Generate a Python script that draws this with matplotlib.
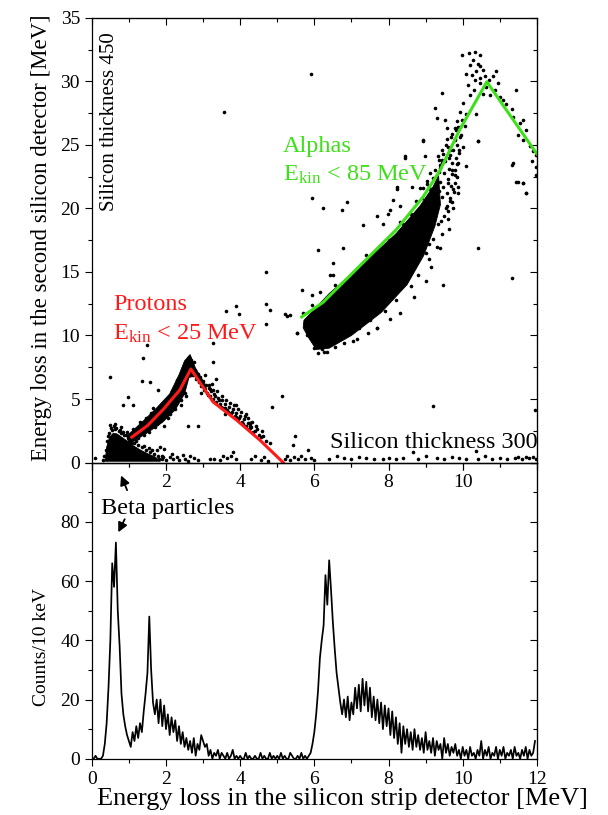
import matplotlib
matplotlib.use('Agg')
import matplotlib.pyplot as plt
import numpy as np
from matplotlib.ticker import MultipleLocator

plt.rcParams['font.family'] = 'Liberation Serif'
plt.rcParams['mathtext.fontset'] = 'custom'
plt.rcParams['mathtext.rm'] = 'Liberation Serif'
plt.rcParams['mathtext.it'] = 'Liberation Serif:italic'

# ---- dE-E scatter: isolated events [MeV, MeV]
outlier_x = [5.90, 3.56, 4.71, 4.71, 3.90, 3.63, 3.98, 4.80, 4.71, 5.54, 1.39, 0.49, 1.57, 1.35,
             1.79, 3.27, 3.36, 5.12, 4.87, 1.48, 3.27, 0.98, 0.85, 1.12, 2.60, 2.87, 4.26, 5.43,
             0.09, 0.49, 0.63, 0.80, 9.20, 5.48, 5.84, 11.95, 8.67, 10.37, 5.93, 6.24, 6.74, 6.87,
             6.10, 6.51, 6.78, 6.42, 6.50, 5.93, 6.15, 7.68, 7.05, 7.32, 7.68, 8.04, 8.22, 8.44,
             8.85, 8.94, 9.47, 10.42, 9.74, 10.42, 11.36, 11.32, 5.66, 5.20, 5.25, 5.35, 5.52]
outlier_y = [30.6, 27.6, 15.0, 12.5, 12.3, 11.9, 11.7, 12.0, 10.9, 10.2, 8.2, 6.76, 6.36, 6.44,
             5.7, 7.94, 6.6, 5.26, 4.4, 9.25, 9.4, 5.18, 4.53, 4.53, 2.9, 2.9, 3.09, 1.38,
             0.33, 2.95, 3.0, 2.8, 4.45, 2.11, 0.98, 4.1, 0.85, 0.93, 20.8, 20.0, 19.9, 20.5,
             16.7, 15.7, 16.9, 14.8, 14.8, 13.2, 13.4, 10.6, 9.6, 18.7, 19.4, 19.9, 21.5, 24.0,
             21.6, 25.3, 14.0, 16.9, 20.0, 25.3, 23.6, 14.5, 13.6, 11.7, 11.5, 11.6, 10.2]

# beta particles: dense blob outline plus its fringe
beta_core_x = [0.36, 0.40, 0.48, 0.58, 0.68, 0.80, 0.95, 1.10, 1.30, 1.50, 1.70, 1.85, 0.36]
beta_core_y = [0.10, 1.20, 2.00, 2.30, 2.25, 2.00, 1.70, 1.35, 1.00, 0.70, 0.45, 0.10, 0.10]
beta_x = [0.33, 0.37, 0.42, 0.47, 0.55, 0.63, 0.72, 0.78, 0.88, 0.97, 1.05, 1.15, 1.25, 1.35,
          1.45, 1.58, 1.68, 1.78, 1.88, 0.52, 0.60, 0.66, 0.85, 1.02, 1.20, 1.40, 1.62, 0.30,
          0.44, 0.75, 0.92, 1.92, 1.55, 1.12]
beta_y = [0.5, 1.0, 1.7, 2.3, 2.55, 2.6, 2.45, 2.3, 2.2, 1.95, 1.8, 1.55, 1.35, 1.2,
          1.0, 0.85, 0.7, 0.55, 0.3, 2.75, 2.85, 2.7, 2.4, 2.05, 1.7, 1.3, 0.95, 0.2,
          2.1, 2.55, 2.15, 0.45, 1.15, 1.9]

# protons: rising branch outline and fringe, falling branch events
proton_core_x = [1.00, 1.45, 1.90, 2.25, 2.50, 2.62, 2.78, 2.90, 3.10, 3.05, 2.80, 2.65,
                 2.50, 2.35, 2.10, 1.75, 1.40, 1.10, 0.95]
proton_core_y = [1.45, 2.25, 3.15, 4.15, 5.40, 6.70, 6.80, 6.30, 5.70, 6.20, 7.40, 8.50,
                 8.00, 6.90, 5.40, 4.30, 3.30, 2.50, 2.10]
proton_x = [0.95, 1.10, 1.20, 1.30, 1.45, 1.55, 1.70, 1.85, 2.00, 2.05, 2.20, 2.25, 2.35, 2.40,
            2.45, 2.50, 1.65, 1.60, 2.15, 2.30, 1.25, 1.40, 1.75, 1.95, 2.10, 2.40, 2.55, 1.05,
            2.70, 2.72, 2.78, 2.80, 2.85, 2.88, 2.92, 2.95, 3.00, 3.02, 3.08, 3.10, 3.15, 3.18,
            3.22, 3.28, 3.30, 3.35, 3.40, 3.45, 3.50, 3.55, 3.60, 3.65, 3.70, 3.75, 3.80, 3.85,
            3.90, 3.95, 4.00, 4.05, 4.10, 4.15, 4.20, 4.25, 4.30, 4.35, 4.40, 4.50, 4.55, 4.62,
            4.70, 4.80, 3.05, 3.25, 2.95, 3.60, 3.90, 4.15, 2.62, 2.58, 2.68, 2.75, 2.55, 4.27,
            4.27, 4.27, 3.12, 3.20, 3.33, 3.42, 3.48, 3.58, 3.68, 3.78, 3.88, 3.98, 4.08, 4.45,
            3.17, 3.27, 3.38, 3.52, 3.63, 3.72, 3.83, 3.93, 4.03, 4.12, 4.22, 4.33, 4.42, 4.58]
proton_y = [2.4, 2.6, 2.3, 3.2, 3.5, 2.4, 2.8, 4.4, 4.6, 3.5, 5.5, 4.2, 6.2, 4.9,
            7.3, 5.5, 4.3, 3.9, 5.6, 6.5, 1.9, 2.2, 3.0, 2.9, 3.8, 4.5, 5.2, 1.55,
            7.6, 6.9, 7.3, 6.6, 7.0, 6.3, 6.7, 6.0, 6.4, 5.7, 6.1, 5.5, 5.9, 5.2,
            5.6, 5.0, 5.4, 4.8, 5.1, 4.6, 4.9, 4.3, 4.6, 4.1, 4.4, 3.9, 4.2, 3.7,
            3.9, 3.4, 3.7, 3.2, 3.4, 2.9, 3.1, 2.6, 2.8, 2.4, 2.5, 2.2, 2.0, 2.1,
            1.7, 1.5, 6.9, 6.2, 5.5, 3.8, 4.5, 3.8, 8.3, 8.0, 8.1, 7.9, 7.7, 3.1,
            2.9, 2.7, 5.3, 5.8, 5.2, 4.9, 4.4, 4.3, 4.0, 4.0, 3.6, 3.5, 3.0, 2.6,
            6.1, 5.7, 5.6, 5.2, 4.9, 4.7, 4.5, 4.2, 4.0, 3.7, 3.5, 3.2, 2.9, 2.5]

# alphas: dense band outline, fringe, punch-through peak and falling branch
alpha_core_x = [5.72, 6.40, 7.30, 8.20, 8.85, 9.20, 9.35, 9.40, 9.25, 8.95, 8.50, 7.80,
                7.00, 6.40, 6.05, 5.85, 5.70]
alpha_core_y = [11.2, 13.3, 15.6, 18.0, 20.2, 21.7, 22.6, 20.3, 18.6, 16.3, 14.0, 11.8,
                10.0, 9.0, 8.9, 9.8, 10.6]
alpha_x = [5.85, 5.95, 6.00, 6.10, 6.20, 6.30, 6.05, 5.75, 5.80, 6.35, 6.50, 6.65, 6.15, 5.90,
           6.00, 6.20, 6.30, 6.60, 6.90, 7.10, 7.50, 7.80, 8.00, 8.40, 8.60, 8.90, 9.10, 9.35,
           9.45, 7.20, 7.50, 7.90, 8.20, 8.60, 8.80, 9.10, 9.30, 9.45, 9.60, 9.70, 9.75, 9.80,
           9.85, 9.90, 9.70, 9.60, 9.65, 9.80, 9.95, 10.00,
           9.97, 10.18, 10.33, 10.46, 10.28, 10.42, 10.19, 10.46, 10.55, 10.37, 10.10, 10.24,
           10.60, 10.46, 10.33, 10.15, 10.46, 10.64, 10.82, 10.91, 10.96, 10.87, 10.73, 11.00,
           11.09, 11.18, 11.32, 11.45, 11.36, 11.54, 11.63, 11.72, 11.50, 11.63, 11.81, 11.90,
           11.99, 11.86, 11.99, 11.32, 11.50, 11.63, 11.72, 11.99, 11.45, 11.63, 11.72,
           10.01, 9.92, 10.10, 9.97, 9.88, 9.83, 9.70, 9.79, 9.57, 9.65, 9.48, 9.34, 9.43, 9.39,
           9.25, 9.12, 9.21, 9.03, 8.94, 9.12, 9.25, 9.43, 9.30, 9.52, 9.57, 10.37, 10.42, 10.10,
           9.88, 9.65, 9.57, 8.94, 8.98, 8.44, 8.62, 8.22, 8.13, 7.99, 7.86, 8.31,
           6.25, 6.55, 6.80, 7.15, 7.45, 7.70, 8.05, 8.30, 8.70, 9.00, 9.15, 9.40, 9.62, 9.88,
           5.70, 5.95, 6.55, 7.40, 8.30, 8.75, 9.05, 9.60, 10.05, 10.20, 10.30, 10.55, 10.70,
           9.25, 9.30, 9.35, 9.40, 9.38, 9.42, 9.45, 9.48, 9.50, 9.52, 9.55, 9.58, 9.60, 9.62,
           9.63, 9.66, 9.68, 9.70, 9.72, 9.74, 9.76, 9.78, 9.80, 9.82, 9.84, 9.86, 9.88, 9.90,
           9.92, 9.94, 9.50, 9.60, 9.33, 9.20, 9.10, 9.00, 9.35, 9.45, 9.55, 9.68, 9.78, 9.86]
alpha_y = [10.4, 9.8, 9.0, 8.6, 8.9, 9.3, 10.9, 11.0, 10.0, 8.7, 9.5, 9.8, 9.7, 11.6,
           12.0, 12.3, 12.7, 13.4, 14.1, 14.9, 16.1, 16.8, 17.5, 18.8, 19.6, 20.8, 21.7, 22.9,
           23.6, 10.6, 11.2, 11.9, 12.8, 13.9, 14.8, 16.0, 17.0, 18.0, 19.2, 20.5, 21.5, 22.6,
           23.5, 24.4, 23.0, 22.0, 24.2, 25.5, 25.8, 24.8,
           32.1, 32.2, 32.35, 32.1, 31.7, 31.4, 31.3, 31.2, 30.9, 30.8, 30.6, 30.5,
           30.4, 30.25, 30.1, 29.7, 29.9, 29.6, 30.4, 30.8, 29.9, 29.3, 28.9, 28.8,
           28.5, 28.2, 27.8, 29.3, 27.2, 26.7, 27.0, 26.2, 25.8, 25.4, 24.9, 24.5,
           24.2, 23.7, 23.3, 23.4, 22.1, 22.0, 21.2, 22.6, 22.1, 22.0, 21.2,
           28.3, 27.6, 27.4, 27.0, 26.4, 26.2, 25.9, 25.4, 25.5, 24.6, 24.3, 24.1, 23.8, 23.4,
           23.0, 22.8, 22.4, 22.2, 21.6, 21.5, 27.9, 29.1, 27.1, 27.0, 26.3, 27.4, 25.3, 23.35,
           21.7, 20.8, 20.2, 25.4, 24.1, 24.1, 21.7, 21.7, 20.7, 19.6, 18.8, 20.2,
           8.7, 9.1, 9.4, 9.7, 10.2, 10.6, 11.3, 11.8, 13.0, 14.3, 15.4, 16.9, 18.4, 21.2,
           11.8, 12.4, 14.0, 16.3, 18.9, 20.6, 21.9, 24.8, 26.5, 28.9, 29.3, 29.0, 30.1,
           19.4, 20.5, 21.4, 22.1, 23.2, 19.0, 20.9, 21.7, 22.8, 23.7, 20.0, 21.2, 22.3, 23.1,
           24.0, 20.6, 21.8, 22.7, 23.6, 24.6, 21.3, 22.0, 23.0, 24.0, 25.0, 22.5, 23.6, 24.6,
           25.6, 26.4, 19.4, 19.8, 18.8, 17.6, 17.2, 16.5, 23.8, 24.6, 25.0, 25.6, 26.3, 26.9]

# events with no signal in the thick detector
floor_x = [1.75, 1.85, 1.95, 1.80, 1.90, 2.00, 2.10, 2.15, 2.20, 2.30, 2.35, 2.45, 2.50, 2.60,
           2.65, 2.75, 2.85, 3.20, 3.30, 3.45, 3.55, 3.65, 3.75, 3.80, 3.90, 4.30, 4.40, 4.55,
           4.65, 4.75, 5.20, 5.25, 5.35, 5.45, 5.55, 5.65, 5.75, 5.90, 6.00, 6.40, 6.60, 6.80,
           7.00, 7.20, 7.40, 7.60, 7.85, 8.00, 8.20, 8.40, 8.80, 9.00, 9.30, 9.50, 9.70, 9.90,
           10.10, 10.40, 10.60, 10.80, 11.00, 11.20, 11.40, 11.50, 11.60, 11.70, 11.80, 11.90, 11.97]
floor_y = [1.0, 1.2, 1.05, 0.3, 0.5, 0.2, 0.4, 0.7, 0.25, 0.45, 0.2, 0.6, 0.3, 0.15,
           0.5, 0.35, 0.2, 0.25, 0.3, 0.2, 0.5, 0.35, 0.55, 0.85, 0.3, 0.3, 0.5, 0.2,
           0.4, 0.15, 0.3, 0.5, 0.2, 0.45, 0.3, 0.55, 0.25, 0.35, 0.2, 0.25, 0.55, 0.35,
           0.3, 0.45, 0.35, 0.3, 0.3, 0.35, 0.3, 0.35, 0.25, 0.5, 0.35, 0.3, 0.45, 0.35,
           0.25, 0.3, 0.5, 0.3, 0.35, 0.3, 0.35, 0.4, 0.3, 0.45, 0.35, 0.4, 0.3]

# kinematic curves
proton_curve_x = [1.08, 1.50, 1.91, 2.37, 2.67, 3.27, 3.90, 4.53, 5.16]
proton_curve_y = [2.0, 2.9, 4.13, 5.7, 7.36, 4.77, 3.35, 1.77, 0.0]
alpha_curve_x = [5.66, 6.23, 7.30, 8.20, 8.93, 9.39, 9.92, 10.65, 12.0]
alpha_curve_y = [11.46, 12.6, 15.7, 18.3, 20.9, 23.0, 26.2, 29.97, 24.3]

# ---- energy spectrum in the strip detector (counts, 50 keV steps from 0 MeV)
bin_step = 0.05
spectrum = [
    0, 0, 1, 0, 0, 0, 1, 5, 12, 24,
    40, 66, 58, 73, 50, 38, 22, 15, 11, 8,
    6, 4, 9, 6, 11, 7, 12, 9, 16, 22,
    29, 48, 30, 19, 15, 20, 12, 20, 11, 18,
    10, 15, 8, 14, 9, 13, 6, 11, 5, 9,
    4, 7, 3, 6, 2, 7, 1, 5, 3, 8,
    6, 4, 5, 1, 3, 0, 2, 1, 3, 0,
    2, 1, 0, 2, 0, 1, 3, 0, 1, 0,
    1, 0, 0, 2, 0, 1, 0, 0, 1, 0,
    0, 2, 0, 1, 0, 0, 2, 0, 1, 0,
    1, 0, 2, 0, 1, 0, 0, 2, 1, 0,
    0, 1, 0, 2, 0, 1, 0, 1, 2, 5,
    9, 15, 23, 34, 40, 45, 62, 52, 67, 57,
    46, 37, 29, 24, 19, 15, 20, 14, 21, 13,
    19, 15, 24, 17, 25, 16, 27, 18, 26, 16,
    24, 14, 21, 13, 20, 12, 19, 10, 18, 11,
    17, 8, 16, 7, 14, 5, 12, 2, 11, 5,
    10, 4, 9, 3, 10, 4, 8, 3, 7, 2,
    9, 3, 6, 2, 7, 1, 6, 3, 5, 0,
    7, 2, 5, 1, 4, 2, 5, 1, 3, 0,
    4, 1, 3, 0, 4, 1, 2, 0, 3, 1,
    6, 0, 3, 1, 4, 0, 2, 1, 4, 0,
    3, 1, 4, 0, 2, 1, 3, 0, 4, 1,
    2, 0, 3, 1, 4, 0, 3, 1, 2, 6,
]

x_ticks = [0, 2, 4, 6, 8, 10, 12]
top_xticklabels = ['', '2', '4', '6', '8', '10', '']
de_ticks = [0, 5, 10, 15, 20, 25, 30, 35]
count_ticks = [0, 20, 40, 60, 80, 100]
count_ticklabels = ['0', '20', '40', '60', '80', '']

RED = '#ff1a1a'
GREEN = '#3ee01a'

fig = plt.figure(figsize=(6.08, 8.15), dpi=100)
ax1 = fig.add_axes([0.151, 0.4325, 0.732, 0.5455])
ax2 = fig.add_axes([0.151, 0.069, 0.732, 0.3635])
ax2.patch.set_visible(False)


def style_axes(ax, xminor, yminor):
    ax.xaxis.set_minor_locator(MultipleLocator(xminor))
    ax.yaxis.set_minor_locator(MultipleLocator(yminor))
    ax.tick_params(which='both', direction='out', labelsize=14, width=0.8)
    ax.tick_params(which='major', length=5)
    ax.tick_params(which='minor', length=3)
    for s in ax.spines.values():
        s.set_linewidth(0.9)
    # mirrored ticks pointing inwards
    top = ax.secondary_xaxis('top')
    top.set_xticks(x_ticks)
    top.xaxis.set_minor_locator(MultipleLocator(xminor))
    top.tick_params(which='both', direction='in', labeltop=False, width=0.8)
    top.tick_params(which='major', length=5)
    top.tick_params(which='minor', length=3)
    right = ax.secondary_yaxis('right')
    right.yaxis.set_major_locator(MultipleLocator(yminor * 2))
    right.yaxis.set_minor_locator(MultipleLocator(yminor))
    right.tick_params(which='both', direction='in', labelright=False, width=0.8)
    right.tick_params(which='major', length=5)
    right.tick_params(which='minor', length=3)


# ---- top: dE vs E
dot = dict(ls='none', marker='o', ms=2.6, mew=0, color='k')
ax1.fill(beta_core_x, beta_core_y, color='k', lw=0.6)
ax1.fill(proton_core_x, proton_core_y, color='k', lw=0.6)
ax1.fill(alpha_core_x, alpha_core_y, color='k', lw=0.6)
ax1.plot(beta_x, beta_y, **dot)
ax1.plot(proton_x, proton_y, **dot)
ax1.plot(alpha_x, alpha_y, **dot)
ax1.plot(outlier_x, outlier_y, **dot)
ax1.plot(floor_x, floor_y, **dot)
ax1.plot(proton_curve_x, proton_curve_y, color=RED, lw=2.2)
ax1.plot(alpha_curve_x, alpha_curve_y, color=GREEN, lw=2.2)

ax1.set_xlim(0, 12)
ax1.set_ylim(0, 35)
ax1.set_xticks(x_ticks)
ax1.set_xticklabels(top_xticklabels)
ax1.set_yticks(de_ticks)
style_axes(ax1, 1, 2.5)

ax1.text(0.57, 12.0, 'Protons', color=RED, fontsize=17.5, va='baseline')
ax1.text(0.57, 9.65, r'E$_{\mathrm{kin}}$ < 25 MeV', color=RED, fontsize=17.5, va='baseline')
ax1.text(5.15, 24.45, 'Alphas', color=GREEN, fontsize=17.5, va='baseline')
ax1.text(5.15, 22.2, r'E$_{\mathrm{kin}}$ < 85 MeV', color=GREEN, fontsize=17.5, va='baseline')
ax1.text(0.49, 33.9, 'Silicon thickness 450', rotation=90, fontsize=15, ha='center', va='top')
ax1.text(12.02, 1.12, 'Silicon thickness 300', fontsize=17.5, ha='right', va='baseline')

# ---- bottom: spectrum
energy = np.arange(len(spectrum)) * bin_step
ax2.plot(energy, spectrum, color='k', lw=1.25)
ax2.set_xlim(0, 12)
ax2.set_ylim(0, 100)
ax2.set_xticks(x_ticks)
ax2.set_yticks(count_ticks)
ax2.set_yticklabels(count_ticklabels)
style_axes(ax2, 1, 10)

ax2.text(0.25, 82.7, 'Beta particles', fontsize=17.5, va='baseline')
arrow = dict(arrowstyle='-|>', color='k', lw=1.3, mutation_scale=14)
ax2.annotate('', xy=(0.76, 96.5), xytext=(0.98, 89.8), arrowprops=arrow, annotation_clip=False)
ax2.annotate('', xy=(0.68, 75.6), xytext=(0.92, 81.7), arrowprops=arrow, annotation_clip=False)

fig.text(0.564, 1 - 799 / 815, 'Energy loss in the silicon strip detector [MeV]',
         fontsize=19, ha='center', va='center')
fig.text(0.069, 1 - 238 / 815, 'Energy loss in the second silicon detector [MeV]',
         fontsize=16.4, rotation=90, ha='center', va='center')
fig.text(0.069, 1 - 647 / 815, 'Counts/10 keV', fontsize=14, rotation=90, ha='center', va='center')

fig.savefig('out.png', dpi=100)
